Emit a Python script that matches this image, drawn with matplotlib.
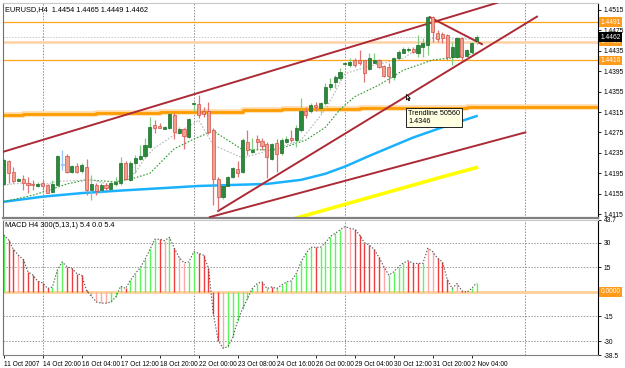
import numpy as np
import matplotlib.pyplot as plt
import matplotlib.transforms as mtransforms

plt.rcParams['font.family'] = ['Liberation Sans', 'DejaVu Sans']

# EURUSD H4 candles (bar 0 = 11 Oct 2007)
opens = [1.4174, 1.4219, 1.4198, 1.4180, 1.4184, 1.4175, 1.4174, 1.4170, 1.4175, 1.4171,
         1.4158, 1.4171, 1.4212, 1.4229, 1.4198, 1.4209, 1.4199, 1.4208, 1.4162, 1.4172,
         1.4162, 1.4172, 1.4164, 1.4174, 1.4175, 1.4215, 1.4182, 1.4215, 1.4222, 1.4228,
         1.4247, 1.4290, 1.4288, 1.4282, 1.4283, 1.4309, 1.4273, 1.4281, 1.4266, 1.4331,
         1.4331, 1.4316, 1.4316, 1.4280, 1.4183, 1.4148, 1.4170, 1.4187, 1.4203, 1.4198,
         1.4257, 1.4237, 1.4262, 1.4259, 1.4252, 1.4222, 1.4254, 1.4235, 1.4257, 1.4264,
         1.4260, 1.4280, 1.4316, 1.4316, 1.4329, 1.4322, 1.4332, 1.4364, 1.4374, 1.4381,
         1.4409, 1.4407, 1.4416, 1.4417, 1.4416, 1.4399, 1.4412, 1.4417, 1.4405, 1.4404,
         1.4384, 1.4420, 1.4431, 1.4437, 1.4438, 1.4431, 1.4443, 1.4446, 1.4501, 1.4470,
         1.4468, 1.4466, 1.4423, 1.4423, 1.4460, 1.4425, 1.4433, 1.4454]
highs = [1.4222, 1.4221, 1.4207, 1.4185, 1.4191, 1.4188, 1.4182, 1.4177, 1.4182, 1.4174,
         1.4182, 1.4231, 1.4241, 1.4233, 1.4211, 1.4215, 1.4215, 1.4222, 1.4191, 1.4175,
         1.4175, 1.4175, 1.4179, 1.4188, 1.4226, 1.4218, 1.4218, 1.4231, 1.4250, 1.4264,
         1.4306, 1.4299, 1.4294, 1.4288, 1.4316, 1.4313, 1.4285, 1.4283, 1.4303, 1.4335,
         1.4348, 1.4325, 1.4335, 1.4283, 1.4188, 1.4172, 1.4190, 1.4208, 1.4218, 1.4264,
         1.4280, 1.4264, 1.4270, 1.4264, 1.4257, 1.4255, 1.4262, 1.4264, 1.4267, 1.4280,
         1.4290, 1.4342, 1.4325, 1.4332, 1.4335, 1.4335, 1.4371, 1.4381, 1.4388, 1.4401,
         1.4414, 1.4420, 1.4420, 1.4437, 1.4417, 1.4430, 1.4430, 1.4418, 1.4407, 1.4411,
         1.4423, 1.4437, 1.4442, 1.4442, 1.4443, 1.4466, 1.4460, 1.4503, 1.4503, 1.4476,
         1.4471, 1.4468, 1.4453, 1.4463, 1.4462, 1.4438, 1.4453, 1.4465]
lows = [1.4172, 1.4176, 1.4175, 1.4179, 1.4162, 1.4156, 1.4162, 1.4168, 1.4162, 1.4156,
        1.4156, 1.4169, 1.4201, 1.4195, 1.4196, 1.4195, 1.4195, 1.4152, 1.4143, 1.4152,
        1.4156, 1.4162, 1.4162, 1.4169, 1.4172, 1.4182, 1.4179, 1.4195, 1.4221, 1.4224,
        1.4244, 1.4273, 1.4283, 1.4281, 1.4281, 1.4262, 1.4272, 1.4242, 1.4264, 1.4316,
        1.4303, 1.4306, 1.4272, 1.4133, 1.4123, 1.4144, 1.4169, 1.4186, 1.4188, 1.4196,
        1.4231, 1.4234, 1.4241, 1.4241, 1.4185, 1.4221, 1.4198, 1.4231, 1.4254, 1.4257,
        1.4247, 1.4276, 1.4303, 1.4314, 1.4316, 1.4314, 1.4329, 1.4358, 1.4362, 1.4378,
        1.4407, 1.4404, 1.4404, 1.4407, 1.4374, 1.4397, 1.4411, 1.4401, 1.4384, 1.4371,
        1.4378, 1.4418, 1.4430, 1.4433, 1.4430, 1.4423, 1.4423, 1.4427, 1.4453, 1.4453,
        1.4450, 1.4417, 1.4407, 1.4420, 1.4417, 1.4420, 1.4430, 1.4449]
closes = [1.4221, 1.4196, 1.4179, 1.4184, 1.4175, 1.4171, 1.4171, 1.4174, 1.4170, 1.4157,
          1.4174, 1.4229, 1.4212, 1.4198, 1.4209, 1.4198, 1.4211, 1.4162, 1.4173, 1.4160,
          1.4172, 1.4166, 1.4175, 1.4177, 1.4215, 1.4183, 1.4216, 1.4224, 1.4229, 1.4250,
          1.4286, 1.4283, 1.4284, 1.4286, 1.4311, 1.4275, 1.4281, 1.4267, 1.4301, 1.4333,
          1.4309, 1.4311, 1.4276, 1.4183, 1.4149, 1.4170, 1.4188, 1.4205, 1.4196, 1.4260,
          1.4241, 1.4241, 1.4257, 1.4248, 1.4226, 1.4252, 1.4233, 1.4260, 1.4262, 1.4260,
          1.4283, 1.4316, 1.4309, 1.4329, 1.4325, 1.4332, 1.4365, 1.4370, 1.4384, 1.4394,
          1.4412, 1.4414, 1.4407, 1.4412, 1.4392, 1.4420, 1.4417, 1.4403, 1.4386, 1.4386,
          1.4420, 1.4433, 1.4438, 1.4438, 1.4433, 1.4446, 1.4450, 1.4502, 1.4472, 1.4458,
          1.4460, 1.4423, 1.4443, 1.4460, 1.4423, 1.4437, 1.4450, 1.4462]

# MACD(5,13,1) histogram
macd = [34.6, 31.5, 25.8, 22.3, 19.7, 12.1, 10.1, 6.4, 5.4, 2.0,
        2.9, 13.2, 18.2, 15.2, 14.2, 11.1, 10.1, 0.9, -2.8, -6.2,
        -6.9, -6.9, -6.2, -3.2, 3.4, 2.0, 7.0, 11.1, 14.6, 19.7,
        25.8, 32.0, 32.0, 31.1, 33.2, 26.5, 20.9, 17.6, 18.2, 24.4,
        23.4, 22.3, 14.5, -13.3, -29.7, -34.4, -33.4, -27.7, -17.5, -10.3,
        -4.2, 2.0, 5.0, 6.0, 2.0, 2.9, 2.0, 4.0, 6.0, 6.6,
        11.1, 18.2, 23.4, 27.1, 27.1, 27.1, 29.9, 33.6, 35.6, 37.7,
        39.7, 38.7, 38.1, 34.6, 29.9, 28.5, 25.8, 20.9, 15.2, 10.1,
        12.1, 15.2, 17.6, 18.9, 17.3, 17.3, 17.3, 26.5, 24.4, 20.3,
        18.2, 7.5, 2.0, 5.0, 0.5, -0.3, 2.0, 5.4]
macd_col = list("grrprrrrrrgggrrrrrppppgggrggggggrpgrppggrrr"
                "rrpgggggggrgrggggggggrgggggpprrrrrrpggggrrrgpprrrgprgg")

# moving averages (bar, price)
blue_bars = [0, 8, 16, 24, 33, 40, 47, 54, 61, 66, 70, 75, 79, 84, 90, 97]
blue_vals = [1.4139, 1.4149, 1.4156, 1.4161, 1.4166, 1.4170, 1.4172, 1.4174,
             1.4182, 1.4194, 1.4208, 1.4229, 1.4245, 1.4265, 1.4285, 1.4307]
yellow_bars = [50, 60, 70, 80, 90, 97]
yellow_vals = [1.4080, 1.4107, 1.4134, 1.4161, 1.4188, 1.4206]
green_bars = [0, 6, 10, 13, 17, 23, 27, 30, 35, 39, 43, 49, 56, 62, 66, 69, 72, 77, 82, 88, 92, 97]
green_vals = [1.4139, 1.4152, 1.4164, 1.4174, 1.4182, 1.4178, 1.4186, 1.4195, 1.4243,
              1.4262, 1.4278, 1.4241, 1.4241, 1.4260, 1.4285, 1.4320, 1.4345, 1.4368,
              1.4397, 1.4417, 1.4421, 1.4431]
gray_bars = [0, 4, 8, 11, 18, 22, 24, 27, 29, 31, 35, 40, 43, 49, 55, 61, 66, 70, 75, 82, 88, 93, 97]
gray_vals = [1.4172, 1.4176, 1.4172, 1.4179, 1.4182, 1.4172, 1.4182, 1.4196, 1.4225,
             1.4245, 1.4270, 1.4299, 1.4250, 1.4225, 1.4241, 1.4260, 1.4320, 1.4390,
             1.4405, 1.4420, 1.4460, 1.4458, 1.4458]
step_bars = [0, 4, 11, 19, 32, 49, 57, 73, 95, 104, 122]
step_vals = [1.4309, 1.4311, 1.4312, 1.4313, 1.4315, 1.4319, 1.4320, 1.4322, 1.4324, 1.4325, 1.4325]

# trendlines: (bar0, price0, bar1, price1)
trendlines = [(-0.1, 1.4237, 101.2, 1.4529),
              (44.0, 1.4121, 109.4, 1.4502),
              (42.3, 1.4109, 107.0, 1.4275),
              (87.4, 1.4501, 98.1, 1.4448)]
levels = [1.4491, 1.4453, 1.4416]

price_ticks = [1.4515, 1.4475, 1.4435, 1.4395, 1.4355, 1.4315, 1.4275, 1.4235, 1.4195, 1.4155, 1.4115]
macd_ticks = [43.7, 30, 15, -15, -30, -38.5]
time_labels = ["11 Oct 2007", "14 Oct 20:00", "16 Oct 04:00", "17 Oct 12:00", "18 Oct 20:00",
               "22 Oct 00:00", "23 Oct 08:00", "24 Oct 16:00", "26 Oct 00:00", "29 Oct 04:00",
               "30 Oct 12:00", "31 Oct 20:00", "2 Nov 04:00"]
time_bars = list(range(0, 97, 8))
vgrid = [8, 39, 70, 107]

W, H = 625, 368
fig = plt.figure(figsize=(W / 100, H / 100), dpi=100)
ax = fig.add_axes([3 / W, 1 - 218 / H, 595 / W, 215 / H])
ax2 = fig.add_axes([3 / W, 1 - 355 / H, 595 / W, 135 / H], sharex=ax)
xlo = -0.14
ax.set_xlim(xlo, xlo + 595 / 4.875)
ax.set_ylim(1.41072, 1.45287)
ax2.set_ylim(-38.5, 43.7)

fs = 4.8
idx = np.arange(len(opens))
o, h, l, c = map(np.array, (opens, highs, lows, closes))

# grid
for a in (ax, ax2):
    for g in vgrid:
        a.axvline(g, color='#8c8c8c', lw=0.7, ls=(0, (1.5, 1.5)), zorder=0)
for v in [30, 15, -15, -30]:
    ax2.axhline(v, color='#9a9a9a', lw=0.7, ls=(0, (1.5, 1.5)), zorder=0)

# level lines
ax.axhline(levels[0], color='#ffa31a', lw=0.9, zorder=1)
ax.axhline(levels[1], color='#ffd2a6', lw=1.8, zorder=1)
ax.axhline(levels[2], color='#ffa31a', lw=0.9, zorder=1)
ax.axhline(closes[-1], color='#c8c8c8', lw=0.7, ls=(0, (1.5, 1.5)), zorder=1)
ax.step(step_bars, step_vals, where='post', color='#ffd9a8', lw=4, zorder=1)
ax.step(step_bars, step_vals, where='post', color='#ff9c00', lw=2, zorder=1)

# moving averages
ax.plot(yellow_bars, yellow_vals, color='#ffff00', lw=2.6, zorder=2)
ax.plot(blue_bars, blue_vals, color='#1ab2ff', lw=1.8, zorder=2)
ax.plot(green_bars, green_vals, color='#2f9a2f', lw=0.8, ls=(0, (1.5, 1.5)), zorder=2)
ax.plot(gray_bars, gray_vals, color='#b8b8b8', lw=0.8, ls=(0, (1.5, 1.5)), zorder=2)

# trendlines
for x0, y0, x1, y1 in trendlines:
    ax.plot([x0, x1], [y0, y1], color='#ac2a35', lw=1.4, zorder=3)

# candles
bull = c > o
bear = c < o
wick_col = np.where(bull, '#7fcf7f', np.where(bear, '#e07474', '#99c4ff'))
ax.vlines(idx, l, h, colors=wick_col, lw=0.9, zorder=4)
body_col = np.where(bull, '#2a8a3c', np.where(bear, '#f2a08e', '#99c4ff'))
edge_col = np.where(bull, '#1d6b2c', np.where(bear, '#d2504a', '#99c4ff'))
ax.bar(idx, np.maximum(np.abs(c - o), 0.00005), bottom=np.minimum(o, c), width=0.64,
       color=body_col, edgecolor=edge_col, linewidth=0.5, zorder=5)

# tooltip and cursor
ax.plot([82.6], [1.4351], marker=[(0, 0), (0, -10), (2.4, -7.6), (4.3, -11.5), (5.8, -10.8),
                                   (4, -7), (7, -7), (0, 0)],
        ms=9, mfc='white', mec='black', mew=0.6, zorder=7)
ax.text(83.0, 1.4318, "Trendline 50560\n1.4346", fontsize=5.2, va='top', ha='left',
        linespacing=1.15, zorder=8,
        bbox=dict(boxstyle='square,pad=0.3', fc='#ffffe1', ec='black', lw=0.6))

# MACD panel
cmap = {'g': '#5cf55c', 'r': '#f03c3c', 'p': '#ffa8a8'}
ax2.axhline(0, color='#ffcf99', lw=2, zorder=1)
ax2.vlines(idx, 0, macd, colors=[cmap[k] for k in macd_col], lw=1.0, zorder=2)
ax2.plot(idx, macd, color='#555555', lw=0.8, ls=(0, (1.2, 1.6)), zorder=3)

# axes styling
for a in (ax, ax2):
    a.set_facecolor('white')
    a.spines['left'].set_color('#707070')
    a.spines['right'].set_color('black')
    a.spines['top'].set_color('#c8c8c8')
    a.yaxis.tick_right()
    a.tick_params(axis='y', length=2.5, width=0.6, pad=1.5, labelsize=fs, direction='out')
ax.spines['bottom'].set_color('#808080')
ax.spines['bottom'].set_linewidth(1.6)
ax2.spines['bottom'].set_color('#808080')
ax.set_yticks(price_ticks)
ax.set_yticklabels([f"{p:.4f}" for p in price_ticks])
ax2.set_yticks(macd_ticks)
ax2.set_yticklabels(["43.7", "30", "15", "-15", "-30", "-38.5"])
ax.tick_params(axis='x', bottom=False, labelbottom=False)
ax2.set_xticks(time_bars)
ax2.set_xticklabels(time_labels)
ax2.tick_params(axis='x', length=2.5, width=0.6, pad=1.5, labelsize=fs)
for t in ax2.get_xticklabels():
    t.set_ha('left')

# right axis value boxes
tr = mtransforms.blended_transform_factory(ax.transAxes, ax.transData)
for lv in levels:
    ax.text(1.004, lv, f"{lv:.4f}", transform=tr, fontsize=fs, color='white', va='center',
            ha='left', clip_on=False, zorder=9,
            bbox=dict(boxstyle='square,pad=0.2', fc='#ff9a1a', ec='none'))
ax.text(1.004, closes[-1], f"{closes[-1]:.4f}", transform=tr, fontsize=fs, color='white',
        va='center', ha='left', clip_on=False, zorder=9,
        bbox=dict(boxstyle='square,pad=0.2', fc='black', ec='none'))
tr2 = mtransforms.blended_transform_factory(ax2.transAxes, ax2.transData)
ax2.text(1.004, 0, "0.0000", transform=tr2, fontsize=fs, color='white', va='center',
         ha='left', clip_on=False, zorder=9,
         bbox=dict(boxstyle='square,pad=0.2', fc='#ff9a1a', ec='none'))

# headers
ax.text(0.004, 0.985, f"EURUSD,H4  {opens[-1]:.4f} {highs[-1]:.4f} {lows[-1]:.4f} {closes[-1]:.4f}",
        transform=ax.transAxes, fontsize=5.3, va='top', ha='left', zorder=9)
ax2.text(0.004, 0.985, f"MACD H4 300(5,13,1) {macd[-1]:.1f} 0.0 {macd[-1]:.1f}",
         transform=ax2.transAxes, fontsize=5.3, va='top', ha='left', zorder=9)

fig.savefig("out.png", dpi=100, facecolor='white')
